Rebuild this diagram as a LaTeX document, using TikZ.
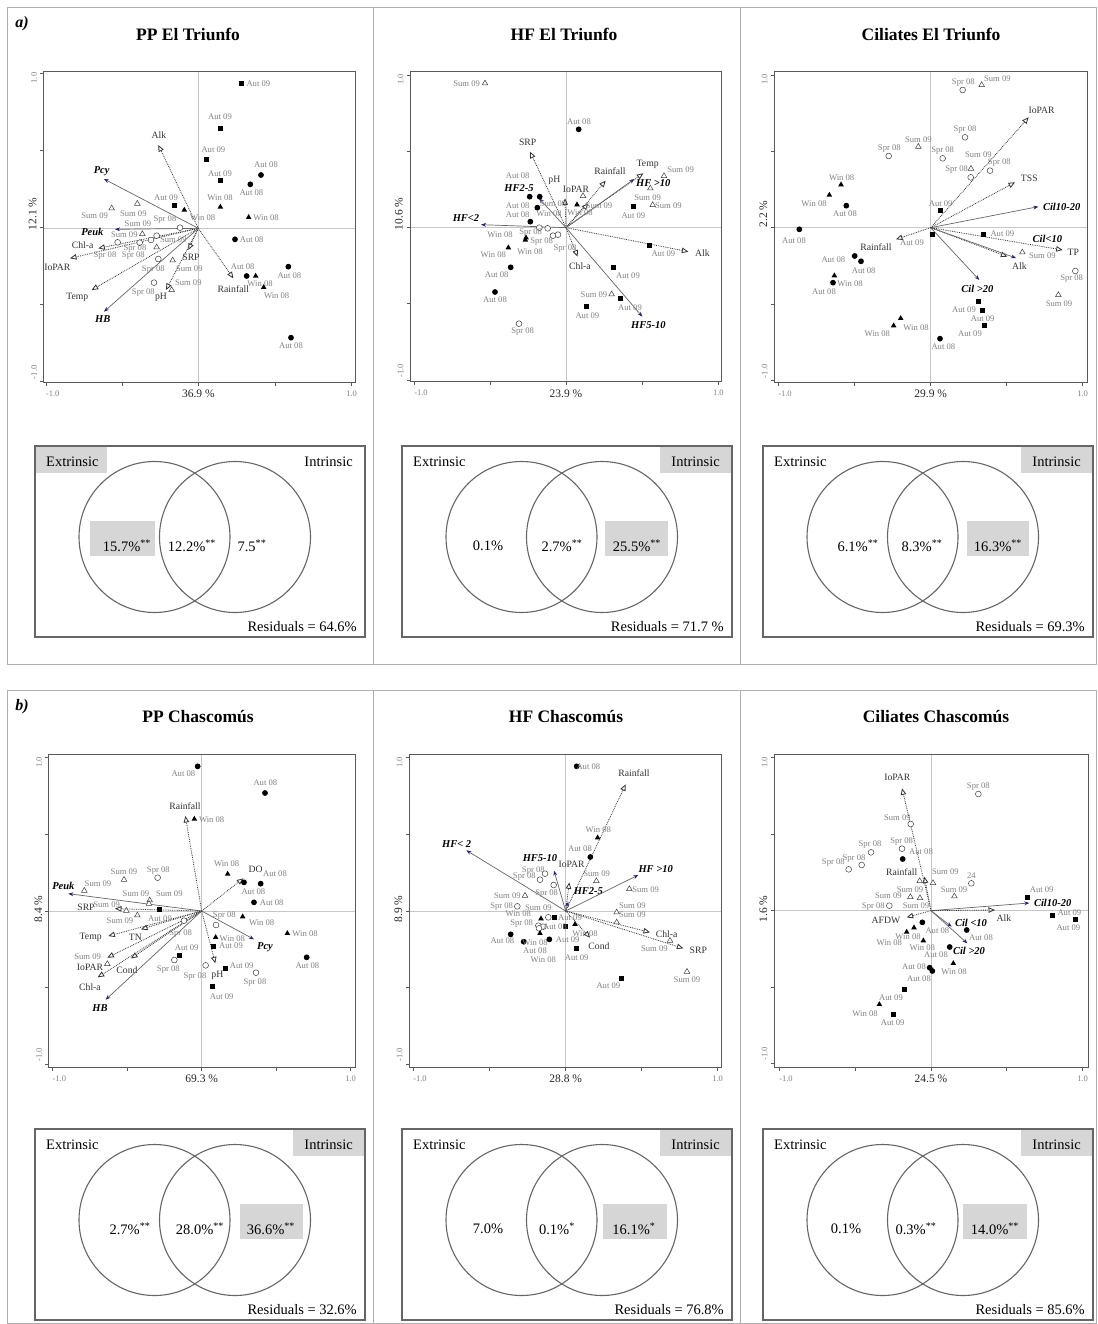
\documentclass[tikz,border=0pt]{standalone}
\usepackage{fontspec}
\setmainfont{Liberation Serif}
\usetikzlibrary{arrows.meta,shapes.geometric}
\definecolor{navy}{RGB}{35,35,120}
\definecolor{labgray}{RGB}{130,130,130}
\definecolor{hlgray}{RGB}{214,214,214}
\definecolor{panelgray}{RGB}{175,175,175}
\newcommand\mpt[4]{\node[#1] at (#2) {};\node[lab] at (#3) {#4};}
\newcommand\varr[3]{\draw[envarr] (o) -- (#1);\node[vlab] at (#2) {#3};}
\newcommand\rarr[3]{\draw[resarr] (o) -- (#1);\node[rlab] at (#2) {#3};}
\newcommand\axes[8]{%
 \draw[cross] (\ocx,#2) -- (\ocx,#4);
 \draw[cross] (#1,\ocy) -- (#3,\ocy);
 \draw[frame] (#1,#2) rectangle (#3,#4);
 \foreach \i in {0,1,2,3,4}{%
   \pgfmathsetmacro\tx{#5+\i*(#6-#5)/4}
   \pgfmathsetmacro\ty{#7+\i*(#8-#7)/4}
   \draw[frame] (\tx,#4) -- ++(0,9);
   \draw[frame] (#1,\ty) -- ++(-9,0);
 }
 \node[tick] at (#5+20,#4+34) {-1.0};
 \node[tick] at (#6,#4+34) {1.0};
 \node[tick,rotate=90] at (#1-28,#7+14) {1.0};
 \node[tick,rotate=90] at (#1-28,#8-28) {-1.0};
 \coordinate (o) at (\ocx,\ocy);
}
\newcommand\vennbox[4]{%
 \begin{scope}[shift={(#1,#2)}]
 \ifnum#3=1 \fill[hlgray] (1,1) rectangle (72,27); \else \fill[hlgray] (258,1) rectangle (329,27); \fi
 \draw[vframe] (0,0) rectangle (330,191);
 \draw[vcirc] (119.5,91) circle[radius=75.5pt];
 \draw[vcirc] (200,91) circle[radius=75.5pt];
 \node[vtxt,anchor=west] at (11,16) {Extrinsic};
 \node[vtxt,anchor=east] at (318,16) {Intrinsic};
 \node[vtxt,anchor=east] at (322,181) {Residuals = #4};
 \end{scope}}
\newcommand\hlbox[3]{\fill[hlgray] (#1,#3+75) rectangle (#2,#3+110);}
\newcommand\vnum[3]{\node[vtxt] at (#1,#2+100) {#3};}
\tikzset{
 lab/.style={font=\fontsize{8.6}{8.6}\selectfont,text=labgray,inner sep=0pt},
 vlab/.style={font=\fontsize{9.7}{9.7}\selectfont,text=black!80,inner sep=0pt},
 rlab/.style={font=\fontsize{10.5}{10.5}\selectfont\bfseries\itshape,text=black,inner sep=0pt},
 tick/.style={font=\fontsize{8.5}{8.5}\selectfont,text=labgray,inner sep=0pt},
 pct/.style={font=\fontsize{11.5}{11.5}\selectfont,text=black!85,inner sep=0pt},
 ttl/.style={font=\fontsize{17.5}{17.5}\selectfont\bfseries,inner sep=0pt},
 plet/.style={font=\fontsize{16}{16}\selectfont\bfseries\itshape,inner sep=0pt},
 vtxt/.style={font=\fontsize{14.5}{14.5}\selectfont,inner sep=0pt},
 frame/.style={draw=black!65,line width=0.8pt},
 cross/.style={draw=black!22,line width=0.8pt},
 panel/.style={draw=panelgray,line width=0.9pt},
 vframe/.style={draw=black!60,line width=1.1pt},
 vcirc/.style={draw=black!60,line width=1.1pt},
 envarr/.style={draw=black!80,line width=0.8pt,densely dotted,-{Triangle[open,length=6.5pt,width=5.5pt,line width=0.8pt]}},
 resarr/.style={draw=black!60,line width=0.7pt,-{Stealth[length=5pt,width=3.8pt,color=navy]}},
 sqm/.style={rectangle,fill=black,minimum size=5pt,inner sep=0pt},
 cim/.style={circle,fill=black,minimum size=5.8pt,inner sep=0pt},
 trm/.style={regular polygon,regular polygon sides=3,fill=black,minimum size=6.5pt,inner sep=0pt},
 otm/.style={regular polygon,regular polygon sides=3,draw=black!75,fill=white,line width=0.5pt,minimum size=6.5pt,inner sep=0pt},
 ocm/.style={circle,draw=black!75,fill=white,line width=0.5pt,minimum size=5.8pt,inner sep=0pt},
}
\begin{document}
\begin{tikzpicture}[x=1pt,y=-1pt]
\useasboundingbox (0,0) rectangle (1097,1324);
\fill[white] (0,0) rectangle (1097,1324);
% panels
\draw[panel] (7,7) rectangle (1096,664);
\draw[panel] (373,7) -- (373,664);
\draw[panel] (740,7) -- (740,664);
\draw[panel] (7,690) rectangle (1096,1323);
\draw[panel] (373,690) -- (373,1323);
\draw[panel] (740,690) -- (740,1323);
\node[plet] (la) at (22,24) {a)};
\node[plet] (lb) at (22,707) {b)};
\node[ttl] (t1) at (188,34) {PP El Triunfo};
\node[ttl] (t2) at (564,34) {HF El Triunfo};
\node[ttl] (t3) at (931,34) {Ciliates El Triunfo};
\node[ttl] (t4) at (198,717) {PP Chascomús};
\node[ttl] (t5) at (566,717) {HF Chascomús};
\node[ttl] (t6) at (936,717) {Ciliates Chascomús};

%================ plot 1 =================
\begin{scope}[shift={(30,60)},scale=1/3]
\def\ocx{505}\def\ocy{505}
\axes{40}{35}{975}{968}{48}{965}{40}{965}
\node[pct] at (505,1002) {36.9 \%};
\node[pct,rotate=90] at (8,462) {12.1 \%};
\varr{385,255}{387,225}{Alk}
\varr{205,565}{158,557}{Chl-a}
\varr{120,595}{82,622}{IoPAR}
\varr{185,690}{142,711}{Temp}
\varr{408,690}{393,712}{pH}
\varr{475,570}{483,592}{SRP}
\varr{610,655}{610,686}{Rainfall}
\rarr{222,357}{215,335}{Pcy}
\rarr{255,508}{187,517}{Peuk}
\rarr{222,755}{218,778}{HB}
\mpt{sqm}{634,70}{685,70}{Aut 09}
\mpt{sqm}{570,205}{570,170}{Aut 09}
\mpt{sqm}{530,298}{550,268}{Aut 09}
\mpt{sqm}{570,362}{570,340}{Aut 09}
\mpt{cim}{693,345}{708,315}{Aut 08}
\mpt{cim}{661,373}{664,397}{Aut 08}
\mpt{trm}{571,441}{570,412}{Win 08}
\mpt{trm}{656,472}{708,474}{Win 08}
\mpt{sqm}{433,437}{408,414}{Aut 09}
\mpt{trm}{463,450}{518,472}{Win 08}
\mpt{otm}{245,445}{194,467}{Sum 09}
\mpt{otm}{322,431}{310,462}{Sum 09}
\mpt{ocm}{450,503}{405,480}{Spr 08}
\mpt{otm}{337,522}{324,492}{Sum 09}
\mpt{ocm}{263,547}{283,524}{Sum 09}
\mpt{ocm}{380,527}{430,540}{Sum 09}
\mpt{ocm}{329,548}{315,566}{Spr 08}
\mpt{ocm}{363,540}{363,540}{}
\mpt{otm}{380,562}{310,588}{Spr 08}
\node[lab] at (225,588) {Spr 08};
\mpt{ocm}{385,597}{370,628}{Spr 08}
\mpt{otm}{428,601}{478,626}{Sum 09}
\mpt{ocm}{372,668}{340,698}{Spr 08}
\mpt{otm}{425,690}{475,668}{Sum 09}
\mpt{cim}{615,538}{665,540}{Aut 08}
\mpt{cim}{775,620}{778,646}{Aut 08}
\mpt{cim}{650,648}{638,620}{Aut 08}
\mpt{trm}{677,648}{690,670}{Win 08}
\mpt{trm}{701,682}{740,706}{Win 08}
\mpt{cim}{783,833}{783,858}{Aut 08}
\end{scope}

%================ plot 2 =================
\begin{scope}[shift={(395,60)},scale=1/3]
\def\ocx{513}\def\ocy{503}
\axes{45}{35}{978}{965}{58}{970}{45}{960}
\node[pct] at (513,1002) {23.9 \%};
\node[pct,rotate=90] at (12,462) {10.6 \%};
\rarr{258,494}{213,474}{HF<2}
\rarr{432,415}{372,385}{HF2-5}
\varr{405,275}{398,248}{SRP}
\node[vlab] at (478,362) {pH};
\varr{510,415}{543,388}{IoPAR}
\varr{632,362}{645,333}{Rainfall}
\varr{745,340}{758,313}{Temp}
\varr{580,430}{580,430}{}
\rarr{718,357}{775,368}{HF >10}
\varr{880,575}{922,580}{Alk}
\varr{548,590}{555,618}{Chl-a}
\rarr{742,770}{760,795}{HF5-10}
\mpt{otm}{270,70}{215,72}{Sum 09}
\mpt{cim}{551,208}{552,185}{Aut 08}
\mpt{cim}{404,410}{368,348}{Aut 08}
\mpt{cim}{434,410}{434,410}{}
\mpt{cim}{427,443}{368,437}{Aut 08}
\mpt{cim}{406,485}{368,463}{Aut 08}
\mpt{trm}{546,434}{555,458}{Win 08}
\mpt{otm}{564,408}{564,408}{}
\node[lab] at (474,432) {Sum 09};
\node[lab] at (462,462) {Win 08};
\node[lab] at (612,437) {Sum 09};
\mpt{ocm}{433,503}{407,517}{Spr 08}
\mpt{ocm}{458,505}{458,505}{}
\mpt{ocm}{474,527}{440,545}{Spr 08}
\mpt{ocm}{489,524}{510,566}{Spr 08}
\mpt{trm}{393,533}{315,525}{Win 08}
\mpt{trm}{391,540}{405,574}{Win 08}
\mpt{trm}{340,563}{295,585}{Win 08}
\mpt{cim}{347,622}{305,645}{Aut 08}
\mpt{cim}{300,696}{300,720}{Aut 08}
\mpt{ocm}{372,791}{383,815}{Spr 08}
\mpt{sqm}{714,441}{715,467}{Aut 09}
\mpt{otm}{807,348}{857,330}{Sum 09}
\mpt{otm}{766,385}{758,412}{Sum 09}
\mpt{otm}{773,435}{820,438}{Sum 09}
\mpt{sqm}{762,557}{805,582}{Aut 09}
\mpt{sqm}{654,623}{699,647}{Aut 09}
\mpt{otm}{650,703}{597,703}{Sum 09}
\mpt{sqm}{677,717}{705,742}{Aut 09}
\mpt{sqm}{573,741}{577,766}{Aut 09}
\end{scope}

%================ plot 3 =================
\begin{scope}[shift={(760,60)},scale=1/3]
\def\ocx{512}\def\ocy{503}
\axes{42}{35}{982}{968}{55}{968}{45}{962}
\node[pct] at (512,1002) {29.9 \%};
\node[pct,rotate=90] at (10,462) {2.2 \%};
\varr{806,172}{845,150}{IoPAR}
\varr{765,367}{808,355}{TSS}
\rarr{835,440}{905,442}{Cil10-20}
\varr{742,590}{778,618}{Alk}
\rarr{768,594}{862,536}{Cil<10}
\varr{908,570}{940,577}{TP}
\rarr{658,660}{652,686}{Cil >20}
\varr{408,538}{348,562}{Rainfall}
\mpt{ocm}{608,90}{610,68}{Spr 08}
\mpt{otm}{665,75}{712,55}{Sum 09}
\mpt{ocm}{615,232}{615,210}{Spr 08}
\mpt{otm}{475,260}{475,238}{Sum 09}
\mpt{ocm}{386,288}{388,266}{Spr 08}
\mpt{ocm}{548,295}{548,272}{Spr 08}
\mpt{ocm}{690,332}{718,308}{Spr 08}
\node[lab] at (655,283) {Sum 09};
\mpt{otm}{633,326}{590,330}{Spr 08}
\mpt{ocm}{632,352}{632,352}{}
\mpt{trm}{243,374}{245,352}{Win 08}
\mpt{trm}{208,405}{162,430}{Win 08}
\mpt{cim}{259,437}{255,460}{Aut 08}
\mpt{sqm}{542,453}{542,432}{Aut 09}
\mpt{cim}{118,508}{102,541}{Aut 08}
\mpt{sqm}{516,523}{456,548}{Aut 09}
\mpt{sqm}{670,523}{727,520}{Aut 09}
\mpt{otm}{787,577}{847,587}{Sum 09}
\mpt{cim}{284,588}{220,600}{Aut 08}
\mpt{cim}{303,604}{311,632}{Aut 08}
\mpt{trm}{223,647}{270,670}{Win 08}
\mpt{cim}{219,668}{192,695}{Aut 08}
\mpt{ocm}{946,633}{935,656}{Spr 08}
\mpt{otm}{895,705}{897,730}{Sum 09}
\mpt{sqm}{656,725}{612,748}{Aut 09}
\mpt{sqm}{668,752}{668,775}{Aut 09}
\mpt{sqm}{673,797}{630,822}{Aut 09}
\mpt{trm}{422,775}{468,802}{Win 08}
\mpt{trm}{401,797}{352,822}{Win 08}
\mpt{cim}{540,836}{550,860}{Aut 08}
\end{scope}

%================ plot 4 =================
\begin{scope}[shift={(30,745)},scale=1/3]
\def\ocx{515}\def\ocy{498}
\axes{55}{28}{975}{968}{68}{962}{38}{958}
\node[pct] at (515,1002) {69.3 \%};
\node[pct,rotate=90] at (25,492) {8.4 \%};
\varr{466,213}{465,183}{Rainfall}
\varr{640,400}{677,373}{DO}
\rarr{115,446}{100,422}{Peuk}
\varr{255,491}{168,487}{SRP}
\varr{235,573}{182,578}{Temp}
\varr{333,553}{316,578}{TN}
\varr{232,638}{180,666}{IoPAR}
\varr{303,640}{291,675}{Cond}
\varr{203,697}{180,727}{Chl-a}
\rarr{227,764}{210,790}{HB}
\varr{556,655}{562,690}{pH}
\rarr{672,583}{705,606}{Pcy}
\mpt{cim}{503,64}{460,87}{Aut 08}
\mpt{cim}{705,144}{706,112}{Aut 08}
\mpt{trm}{493,222}{545,224}{Win 08}
\mpt{trm}{593,387}{590,357}{Win 08}
\mpt{cim}{642,412}{670,440}{Aut 08}
\mpt{cim}{692,416}{735,387}{Aut 08}
\mpt{cim}{672,472}{725,473}{Aut 08}
\mpt{trm}{638,515}{695,532}{Win 08}
\mpt{trm}{772,565}{825,567}{Win 08}
\mpt{cim}{830,637}{832,661}{Aut 08}
\mpt{otm}{282,404}{282,380}{Sum 09}
\mpt{ocm}{383,398}{385,376}{Spr 08}
\mpt{otm}{163,437}{204,416}{Sum 09}
\mpt{otm}{359,466}{318,445}{Sum 09}
\mpt{otm}{357,476}{418,446}{Sum 09}
\mpt{sqm}{388,494}{390,520}{Aut 09}
\mpt{otm}{289,497}{230,478}{Sum 09}
\mpt{otm}{322,511}{270,528}{Sum 09}
\mpt{ocm}{462,527}{452,565}{Spr 08}
\mpt{ocm}{558,540}{583,513}{Spr 08}
\mpt{trm}{557,577}{607,580}{Win 08}
\mpt{sqm}{549,604}{603,601}{Aut 09}
\mpt{sqm}{447,630}{470,608}{Aut 09}
\mpt{ocm}{433,645}{415,675}{Spr 08}
\mpt{ocm}{527,661}{495,695}{Spr 08}
\mpt{sqm}{586,671}{635,662}{Aut 09}
\mpt{ocm}{678,683}{675,714}{Spr 08}
\mpt{sqm}{547,724}{575,755}{Aut 09}
\mpt{otm}{232,657}{173,634}{Sum 09}
\end{scope}

%================ plot 5 =================
\begin{scope}[shift={(395,745)},scale=1/3]
\def\ocx{512}\def\ocy{498}
\axes{42}{28}{980}{968}{55}{968}{38}{958}
\node[pct] at (512,1002) {28.8 \%};
\node[pct,rotate=90] at (10,492) {8.9 \%};
\varr{692,118}{717,85}{Rainfall}
\rarr{214,316}{185,298}{HF< 2}
\rarr{477,377}{435,338}{HF5-10}
\varr{523,412}{530,358}{IoPAR}
\rarr{520,470}{580,438}{HF2-5}
\rarr{730,390}{782,373}{HF >10}
\varr{585,578}{612,604}{Cond}
\varr{765,562}{815,567}{Chl-a}
\varr{865,610}{910,615}{SRP}
\mpt{cim}{545,64}{580,64}{Aut 08}
\mpt{trm}{608,278}{610,255}{Win 08}
\mpt{cim}{586,336}{555,310}{Aut 08}
\mpt{ocm}{450,386}{415,376}{Spr 08}
\mpt{ocm}{435,404}{388,396}{Spr 08}
\mpt{ocm}{476,420}{455,445}{Spr 08}
\mpt{otm}{604,408}{605,386}{Sum 09}
\mpt{otm}{703,432}{752,433}{Sum 09}
\mpt{otm}{390,452}{337,453}{Sum 09}
\mpt{ocm}{367,484}{320,485}{Spr 08}
\node[lab] at (430,487) {Sum 09};
\mpt{otm}{665,502}{712,481}{Sum 09}
\mpt{otm}{665,532}{712,510}{Sum 09}
\mpt{sqm}{478,517}{525,517}{Aut 09}
\mpt{ocm}{460,517}{460,517}{}
\mpt{trm}{438,521}{370,506}{Win 08}
\node[lab] at (380,535) {Spr 08};
\mpt{ocm}{430,542}{430,542}{}
\mpt{ocm}{445,545}{445,545}{}
\mpt{ocm}{432,550}{432,550}{}
\mpt{sqm}{512,544}{480,545}{Aut 08}
\mpt{trm}{540,538}{570,565}{Win 08}
\mpt{trm}{435,565}{435,565}{}
\mpt{cim}{347,568}{322,588}{Aut 08}
\mpt{cim}{386,590}{420,592}{Win 08}
\mpt{cim}{463,583}{420,618}{Aut 08}
\node[lab] at (445,645) {Win 08};
\mpt{sqm}{544,610}{545,637}{Aut 09}
\node[lab] at (518,585) {Aut 09};
\mpt{otm}{825,587}{778,610}{Sum 09}
\mpt{otm}{876,680}{876,705}{Sum 09}
\mpt{sqm}{680,700}{640,723}{Aut 09}
\end{scope}

%================ plot 6 =================
\begin{scope}[shift={(760,745)},scale=1/3]
\def\ocx{513}\def\ocy{497}
\axes{42}{28}{985}{968}{58}{968}{38}{955}
\node[pct] at (513,1002) {24.5 \%};
\node[pct,rotate=90] at (10,492) {1.6 \%};
\varr{426,130}{412,98}{IoPAR}
\varr{493,395}{425,380}{Rainfall}
\rarr{808,474}{878,475}{Cil10-20}
\varr{705,495}{732,520}{Alk}
\varr{440,517}{378,525}{AFDW}
\rarr{575,545}{633,533}{Cil <10}
\rarr{622,595}{627,618}{Cil >20}
\mpt{ocm}{655,147}{655,125}{Spr 08}
\mpt{ocm}{452,237}{412,218}{Sum 09}
\mpt{ocm}{333,322}{330,300}{Spr 08}
\mpt{ocm}{305,360}{282,340}{Spr 08}
\mpt{ocm}{266,373}{220,352}{Spr 08}
\mpt{ocm}{426,311}{425,290}{Spr 08}
\mpt{cim}{428,342}{483,320}{Aut 08}
\mpt{otm}{479,408}{479,408}{}
\mpt{otm}{519,414}{556,381}{Sum 09}
\mpt{ocm}{634,415}{634,392}{24}
\mpt{otm}{451,456}{450,433}{Sum 09}
\node[lab] at (385,453) {Sum 09};
\mpt{otm}{480,459}{480,459}{}
\mpt{otm}{583,454}{582,433}{Sum 09}
\mpt{ocm}{388,482}{340,484}{Spr 08}
\node[lab] at (468,483) {Sum 09};
\mpt{sqm}{802,457}{845,433}{Aut 09}
\mpt{sqm}{876,510}{928,503}{Aut 09}
\mpt{sqm}{945,523}{925,548}{Aut 09}
\mpt{cim}{487,532}{487,532}{}
\mpt{trm}{462,548}{444,576}{Win 08}
\mpt{trm}{440,561}{388,593}{Win 08}
\mpt{trm}{490,587}{487,608}{Win 08}
\node[lab] at (532,556) {Aut 08};
\mpt{cim}{620,555}{663,578}{Aut 08}
\mpt{cim}{569,606}{528,630}{Aut 08}
\mpt{trm}{580,655}{582,680}{Win 08}
\mpt{cim}{509,668}{462,666}{Aut 08}
\mpt{cim}{517,678}{477,702}{Aut 08}
\mpt{sqm}{433,734}{393,759}{Aut 09}
\mpt{trm}{358,778}{315,805}{Win 08}
\mpt{sqm}{399,808}{398,832}{Aut 09}
\end{scope}

%================ Venn diagrams =================
% a1
\hlbox{90}{155}{446}
\vennbox{35}{446}{1}{64.6\%}
\vnum{127}{446}{15.7\%\textsuperscript{**}}
\vnum{192}{446}{12.2\%\textsuperscript{**}}
\vnum{252}{446}{7.5\textsuperscript{**}}
% a2
\hlbox{605}{668}{446}
\vennbox{402}{446}{0}{71.7 \%}
\vnum{488}{446}{0.1\%}
\vnum{562}{446}{2.7\%\textsuperscript{**}}
\vnum{637}{446}{25.5\%\textsuperscript{**}}
% a3
\hlbox{967}{1029}{446}
\vennbox{763}{446}{0}{69.3\%}
\vnum{858}{446}{6.1\%\textsuperscript{**}}
\vnum{922}{446}{8.3\%\textsuperscript{**}}
\vnum{998}{446}{16.3\%\textsuperscript{**}}
% b1
\hlbox{240}{303}{1129}
\vennbox{35}{1129}{0}{32.6\%}
\vnum{130}{1129}{2.7\%\textsuperscript{**}}
\vnum{200}{1129}{28.0\%\textsuperscript{**}}
\vnum{271}{1129}{36.6\%\textsuperscript{**}}
% b2
\hlbox{603}{667}{1129}
\vennbox{402}{1129}{0}{76.8\%}
\vnum{488}{1129}{7.0\%}
\vnum{557}{1129}{0.1\%\textsuperscript{*}}
\vnum{634}{1129}{16.1\%\textsuperscript{*}}
% b3
\hlbox{963}{1027}{1129}
\vennbox{763}{1129}{0}{85.6\%}
\vnum{846}{1129}{0.1\%}
\vnum{916}{1129}{0.3\%\textsuperscript{**}}
\vnum{995}{1129}{14.0\%\textsuperscript{**}}
\end{tikzpicture}
\end{document}
